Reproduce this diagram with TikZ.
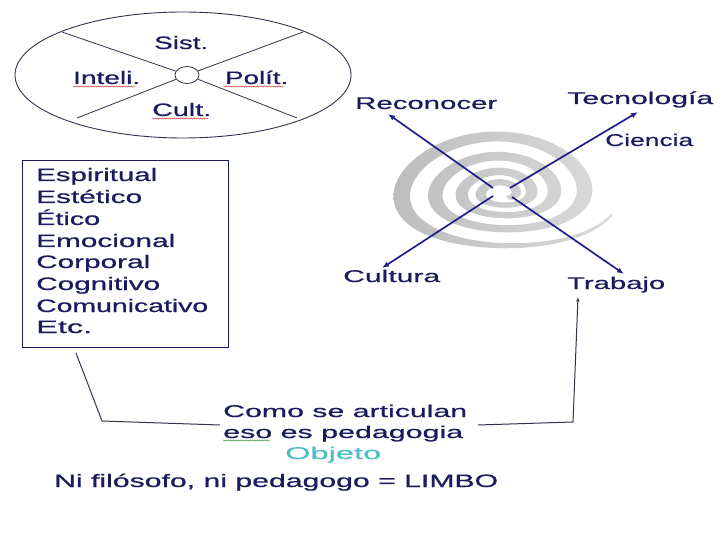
\documentclass[tikz,border=0pt]{standalone}
\usepackage{fontspec}
\setmainfont[FakeBold=0.5]{Liberation Sans}
\usetikzlibrary{shapes.geometric,arrows.meta,decorations.pathmorphing}
\definecolor{navy}{RGB}{27,27,95}
\definecolor{arrblue}{RGB}{30,30,140}
\definecolor{objteal}{RGB}{80,190,200}
\definecolor{linegray}{RGB}{50,50,80}
\definecolor{wavyred}{RGB}{205,70,70}
\definecolor{wavygreen}{RGB}{70,150,70}
\newcommand\wtxt[2]{\resizebox{#1pt}{\height}{#2}}
\begin{document}
\begin{tikzpicture}[x=1pt,y=-1pt,
  lbl/.style={inner sep=0pt, anchor=base west, text=navy, font=\fontsize{18}{20}\selectfont},
  slbl/.style={lbl, font=\fontsize{17}{19}\selectfont},
  ln/.style={draw=linegray, line width=0.8pt},
  conn/.style={draw=linegray, line width=1pt},
  barrow/.style={draw=arrblue, line width=1.7pt, -{Latex[length=7pt,width=5.5pt]}},
  wavy/.style={line width=0.5pt, decorate, decoration={snake, amplitude=0.6pt, segment length=2.4pt}},
  declare function={
    sr(\p)=14+12*(\p/360)+3.6*(\p/360)^2;
    sw(\p)=(9.5+2*(\p/360))*min(1,(1440-\p)/140);
    ys(\p)=0.55-0.07*sin(-\p);
  }
]
\useasboundingbox[fill=white] (0,0) rectangle (720,540);

% ---- top-left ellipse ----
\node[ellipse, draw=linegray, line width=0.9pt, minimum width=336pt, minimum height=126pt, inner sep=0pt] (E) at (183,75) {};
\node[ellipse, draw=linegray, line width=0.8pt, minimum width=24pt, minimum height=17pt, inner sep=0pt] (sc) at (187,75) {};
\coordinate (e1) at (62,32);
\coordinate (e2) at (303,32);
\coordinate (e3) at (77,118);
\coordinate (e4) at (297,118);
\draw[ln] (e1) -- (sc);
\draw[ln] (e2) -- (sc);
\draw[ln] (e3) -- (sc);
\draw[ln] (e4) -- (sc);
\node[lbl] (sist) at (154,49) {\wtxt{54}{Sist.}};
\node[lbl] (inteli) at (73,84) {\wtxt{67}{Inteli.}};
\node[lbl] (polit) at (225,84) {\wtxt{63}{Polít.}};
\node[lbl] (cult) at (152,116) {\wtxt{59}{Cult.}};
\draw[wavy, wavyred] ([yshift=-2.5pt]inteli.base west) -- ([yshift=-2.5pt,xshift=-5pt]inteli.base east);
\draw[wavy, wavyred] ([yshift=-2.5pt,xshift=-2pt]polit.base west) -- ([yshift=-2.5pt,xshift=-5pt]polit.base east);
\draw[wavy, wavyred] ([yshift=-2.5pt]cult.base west) -- ([yshift=-2.5pt,xshift=-3pt]cult.base east);

% ---- box ----
\node[draw=navy, line width=1.1pt, minimum width=206pt, minimum height=187pt, anchor=north west, inner sep=0pt] (box) at (22,160) {};
\node[lbl] (b1) at (36,181) {\wtxt{121}{Espiritual}};
\node[lbl] (b2) at (36,203) {\wtxt{106}{Estético}};
\node[lbl] (b3) at (36,225) {\wtxt{64}{Ético}};
\node[lbl] (b4) at (36,247) {\wtxt{139}{Emocional}};
\node[lbl] (b5) at (36,268) {\wtxt{114}{Corporal}};
\node[lbl] (b6) at (36,290) {\wtxt{124}{Cognitivo}};
\node[lbl] (b7) at (36,312) {\wtxt{172}{Comunicativo}};
\node[lbl] (b8) at (36,333) {\wtxt{56}{Etc.}};

% ---- spiral ----
\shade[left color=gray!52, right color=gray!28]
  plot[domain=-60:1420, samples=500, variable=\t, smooth]
    ({502+(sr(\t)+sw(\t)/2)*cos(-\t)}, {193+ys(\t)*(sr(\t)+sw(\t)/2)*sin(-\t)})
  -- plot[domain=1420:-60, samples=500, variable=\t, smooth]
    ({502+(sr(\t)-sw(\t)/2)*cos(-\t)}, {193+ys(\t)*(sr(\t)-sw(\t)/2)*sin(-\t)})
  -- cycle;

% ---- arrows ----
\coordinate (s1) at (493,188);
\coordinate (t1) at (388,114);
\coordinate (s2) at (510,188);
\coordinate (t2) at (638,112);
\coordinate (s3) at (493,196);
\coordinate (t3) at (382,268);
\coordinate (s4) at (512,197);
\coordinate (t4) at (624,274);
\draw[barrow] (s1) -- (t1);
\draw[barrow] (s2) -- (t2);
\draw[barrow] (s3) -- (t3);
\draw[barrow] (s4) -- (t4);
\node[slbl] (recon) at (355,109) {\wtxt{142}{Reconocer}};
\node[slbl] (tecno) at (567,104) {\wtxt{146}{Tecnología}};
\node[slbl] (cien) at (605,146) {\wtxt{88}{Ciencia}};
\node[slbl] (cultura) at (343,282) {\wtxt{97}{Cultura}};
\node[slbl] (trab) at (567,289) {\wtxt{98}{Trabajo}};

% ---- bottom ----
\node[slbl] (como) at (223,417) {\wtxt{244}{Como se articulan}};
\node[slbl] (peda) at (223,438) {\wtxt{240}{eso es pedagogia}};
\node[slbl, text=objteal] (obj) at (285,459) {\wtxt{96}{Objeto}};
\node[lbl] (limbo) at (54,487) {\wtxt{444}{Ni filósofo, ni pedagogo = LIMBO}};
\draw[wavy, wavygreen] ([yshift=-2.5pt]peda.base west) -- ++(47,0);

\coordinate (l0) at (76,353);
\coordinate (l1) at (102,421);
\coordinate (l2) at (220,425);
\draw[conn] (l0) -- (l1) -- (l2);
\coordinate (r0) at (478,425);
\coordinate (r1) at (573,422);
\coordinate (r2) at (578,297);
\draw[conn, -{Latex[length=4.5pt,width=3.5pt]}] (r0) -- (r1) -- (r2);
\end{tikzpicture}
\end{document}
